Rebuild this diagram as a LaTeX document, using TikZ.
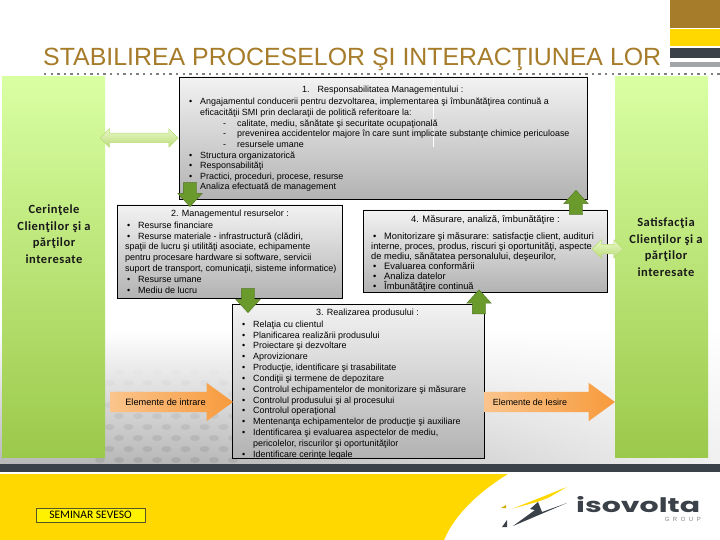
\documentclass[tikz,border=0pt]{standalone}
\usepackage{fontspec}
\usepackage{graphicx}
\setmainfont{Liberation Sans}
\newfontfamily\carlitofont[LetterSpace=4]{Carlito}
\newfontfamily\plaincarlito{Carlito}
\newfontfamily\logofont{Poppins}
\usetikzlibrary{shapes.arrows,fadings}
\definecolor{brownc}{HTML}{A67C2A}
\definecolor{goldc}{HTML}{FFD800}
\definecolor{darkc}{HTML}{3A4149}
\definecolor{grayc}{HTML}{A3A6A9}
\definecolor{arrowg}{HTML}{6B9A2C}
\definecolor{orangeA}{HTML}{FAC48C}
\definecolor{orangeB}{HTML}{F79A3C}
\definecolor{panelT}{HTML}{D9FFA3}
\definecolor{panelB}{HTML}{9BC94A}
\definecolor{sideT}{HTML}{EAF8C8}
\definecolor{sideB}{HTML}{B9DC78}
\newcommand{\blt}[1]{\makebox[11pt][l]{•}#1}
\newcommand{\subit}[1]{\hspace*{34pt}\makebox[14pt][l]{-}#1}
\tikzset{
 x=1pt,y=-1pt,
 procbox/.style={top color=black!5,bottom color=black!30,draw=black,line width=0.9pt,inner sep=0pt},
 bodytext/.style={inner sep=0pt,anchor=north west,align=left,text=black},
 headtext/.style={inner sep=0pt,text=black},
 sidetext/.style={inner sep=0pt,align=center,font=\carlitofont\bfseries\fontsize{12.5}{16.5}\selectfont,text=black!90},
 flowarrow/.style={single arrow,draw=arrowg!75!black,line width=0.4pt,fill=arrowg,minimum height=24pt,minimum width=24pt,single arrow head extend=5.5pt,single arrow tip angle=85,single arrow head indent=0pt,inner sep=6.5pt,outer sep=0pt},
 sidearrow/.style={double arrow,draw=sideB,line width=0.5pt,top color=sideT,bottom color=sideB,minimum width=18pt,double arrow head extend=4.5pt,double arrow tip angle=90,inner sep=4.5pt,outer sep=0pt},
 inputarrow/.style={single arrow,left color=orangeA,right color=orangeB,draw=none,minimum width=38pt,single arrow head extend=9pt,single arrow tip angle=72,single arrow head indent=0pt,inner sep=10pt,outer sep=0pt},
}
\begin{document}
\begin{tikzpicture}
\useasboundingbox (0,0) rectangle (720,540);
\fill[white] (0,0) rectangle (720,540);
% lower background
\shade[top color=white,bottom color=black!28] (0,330) rectangle (720,464);
\foreach \r in {0,...,8}{
 \foreach \c in {0,...,7}{
  \pgfmathsetmacro{\py}{372+\r*11}
  \pgfmathsetmacro{\px}{100+\c*19+mod(\r,2)*9.5}
  \pgfmathsetmacro{\op}{0.02+\r*0.03}
  \fill[black!50,opacity=\op] (\px,\py) ellipse [x radius=5,y radius=3];
 }
}
\fill[white,fill opacity=.8,path fading=west] (200,330) rectangle (720,464);
% footer
\fill[darkc] (0,464) rectangle (720,472);
\fill[goldc] (0,474) -- (508,474) .. controls (482,490) and (456,512) .. (444,540) -- (0,540) -- cycle;
% corner bars
\fill[brownc] (670,0) rectangle (720,28);
\fill[goldc] (670,29) rectangle (720,46.5);
\fill[darkc] (670,48) rectangle (720,58);
\fill[grayc] (670,62) rectangle (720,67);
% title
\node[inner sep=0pt,anchor=base west,text=brownc,font=\fontsize{24.9}{28}\selectfont] (title) at (43,66) {STABILIREA PROCESELOR ŞI INTERACŢIUNEA LOR};
\draw[gray,line width=2.2pt,dash pattern=on 2.4pt off 4.2pt] (44,74) -- (720,74);
% side panels
\shade[top color=panelT,bottom color=panelB] (2,77) rectangle (105,457);
\shade[top color=panelT,bottom color=panelB] (615,77) rectangle (708,457);
\node[sidetext] (reqs) at (54,234) {Cerinţele\\Clienţilor şi a\\părţilor\\interesate};
\node[sidetext] (sat) at (666,247) {Satisfacţia\\Clienţilor şi a\\părţilor\\interesate};
% boxes
\node[procbox,minimum width=408pt,minimum height=122pt] (b1) at (383,138) {};
\node[procbox,minimum width=225pt,minimum height=93pt] (b2) at (229.5,251.5) {};
\node[procbox,minimum width=244pt,minimum height=82pt] (b4) at (485,251) {};
\node[procbox,minimum width=252pt,minimum height=154pt] (b3) at (358,381) {};
\draw[white,line width=0.6pt] (433,78) -- (433,147);
% texts
\node[headtext,anchor=west,font=\fontsize{9}{10.65}\selectfont] (t1) at (302,90.5) {1.\hspace{8pt}Responsabilitatea Managementului :};
\node[bodytext,font=\fontsize{8.95}{10.65}\selectfont] (c1) at (189,98) {\blt{Angajamentul conducerii pentru dezvoltarea, implementarea şi îmbunătăţirea continuă a}\\
\hspace*{11pt}eficacităţii SMI prin  declaraţii de politică referitoare la:\\
\subit{calitate, mediu, sănătate şi securitate ocupaţională}\\
\subit{prevenirea accidentelor majore în care sunt implicate substanţe chimice periculoase}\\
\subit{resursele umane}\\
\blt{Structura organizatorică}\\
\blt{Responsabilităţi}\\
\blt{Practici, proceduri, procese, resurse}\\
\blt{Analiza efectuată de management}};
\node[headtext,font=\fontsize{9}{10.85}\selectfont] (t2) at (230,214) {2. Managementul resurselor :};
\node[bodytext,font=\fontsize{9}{10.85}\selectfont] (c2) at (125,221.5) {\hspace*{2pt}\blt{Resurse financiare}\\
\hspace*{2pt}\blt{Resurse materiale - infrastructură (clădiri,}\\
spaţii de lucru şi utilităţi asociate, echipamente\\
pentru procesare hardware si software, servicii\\
suport de transport, comunicaţii, sisteme informatice)\\
\hspace*{2pt}\blt{Resurse umane}\\
\hspace*{2pt}\blt{Mediu de lucru}};
\node[headtext,font=\fontsize{9.4}{10.85}\selectfont] (t4) at (485.5,220) {4. Măsurare, analiză, îmbunătăţire :};
\node[bodytext,font=\fontsize{9.3}{9.9}\selectfont] (c4) at (371,232.5) {\hspace*{2pt}\blt{Monitorizare şi măsurare: satisfacţie client, audituri}\\
interne, proces, produs, riscuri şi oportunităţi, aspecte\\
de mediu, sănătatea personalului, deşeurilor,\\
\hspace*{2pt}\blt{Evaluarea conformării}\\
\hspace*{2pt}\blt{Analiza datelor}\\
\hspace*{2pt}\blt{Îmbunătăţire continuă}};
\node[headtext,font=\fontsize{9}{10.85}\selectfont] (t3) at (367.5,313) {3. Realizarea produsului :};
\node[bodytext,font=\fontsize{8.95}{10.85}\selectfont] (c3) at (242,320.5) {\blt{Relaţia cu clientul}\\
\blt{Planificarea realizării produsului}\\
\blt{Proiectare şi dezvoltare}\\
\blt{Aprovizionare}\\
\blt{Producţie, identificare şi trasabilitate}\\
\blt{Condiţii şi termene de depozitare}\\
\blt{Controlul echipamentelor de monitorizare şi măsurare}\\
\blt{Controlul produsului şi al procesului}\\
\blt{Controlul operaţional}\\
\blt{Mentenanţa echipamentelor de producţie şi auxiliare}\\
\blt{Identificarea şi evaluarea aspectelor de mediu,}\\
\hspace*{11pt}pericolelor, riscurilor şi oportunităţilor\\
\blt{Identificare cerinţe legale}};
% flow arrows
\node[flowarrow,shape border rotate=270] (a12) at (190,191) {};
\node[flowarrow,shape border rotate=270] (a23) at (248,297) {};
\node[flowarrow,shape border rotate=90] (a41) at (576,206) {};
\node[flowarrow,shape border rotate=90] (a34) at (479,305.5) {};
\node[sidearrow,minimum height=78pt] (al) at (139,138) {};
\node[sidearrow,minimum height=31pt] (ar) at (607.5,249) {};
% orange arrows
\node[inputarrow,minimum height=123pt] (ain) at (164.5,402) {};
\node[inputarrow,minimum height=131pt] (aout) at (542.5,402) {};
\node[inner sep=0pt,font=\fontsize{9.2}{10}\selectfont] (tin) at (165.5,402) {Elemente de intrare};
\node[inner sep=0pt,font=\fontsize{8.9}{10}\selectfont] (tout) at (530,402) {Elemente de Iesire};
% seminar label
\node[draw=black!50!olive,fill=yellow,line width=0.7pt,minimum width=109pt,minimum height=14pt,inner sep=0pt,font=\plaincarlito\fontsize{11.5}{12}\selectfont] (sem) at (90.5,515) {SEMINAR SEVESO};
% logo
\fill[goldc] (513,508.5) -- (567,487) -- (548,498) -- (537,502) -- cycle;
\fill[darkc] (513,526) -- (535,510) -- (530,509) -- (538,502) -- (542,512) -- (567,503) -- cycle;
\fill[goldc!80!black] (501,508) -- (506,505) -- (506,508) -- cycle;
\fill[darkc] (502,527) -- (507,520) -- (507,527) -- cycle;
\node[inner sep=0pt,anchor=base west,text=darkc,font=\logofont\bfseries\fontsize{20}{21}\selectfont] (logo) at (576,512) {\scalebox{1.5}[1]{isovolta}};
\node[inner sep=0pt,anchor=base east,text=gray,font=\fontsize{6}{7}\selectfont] (grp) at (701,521) {G\hspace{3.5pt}R\hspace{3.5pt}O\hspace{3.5pt}U\hspace{3.5pt}P};
\end{tikzpicture}
\end{document}
